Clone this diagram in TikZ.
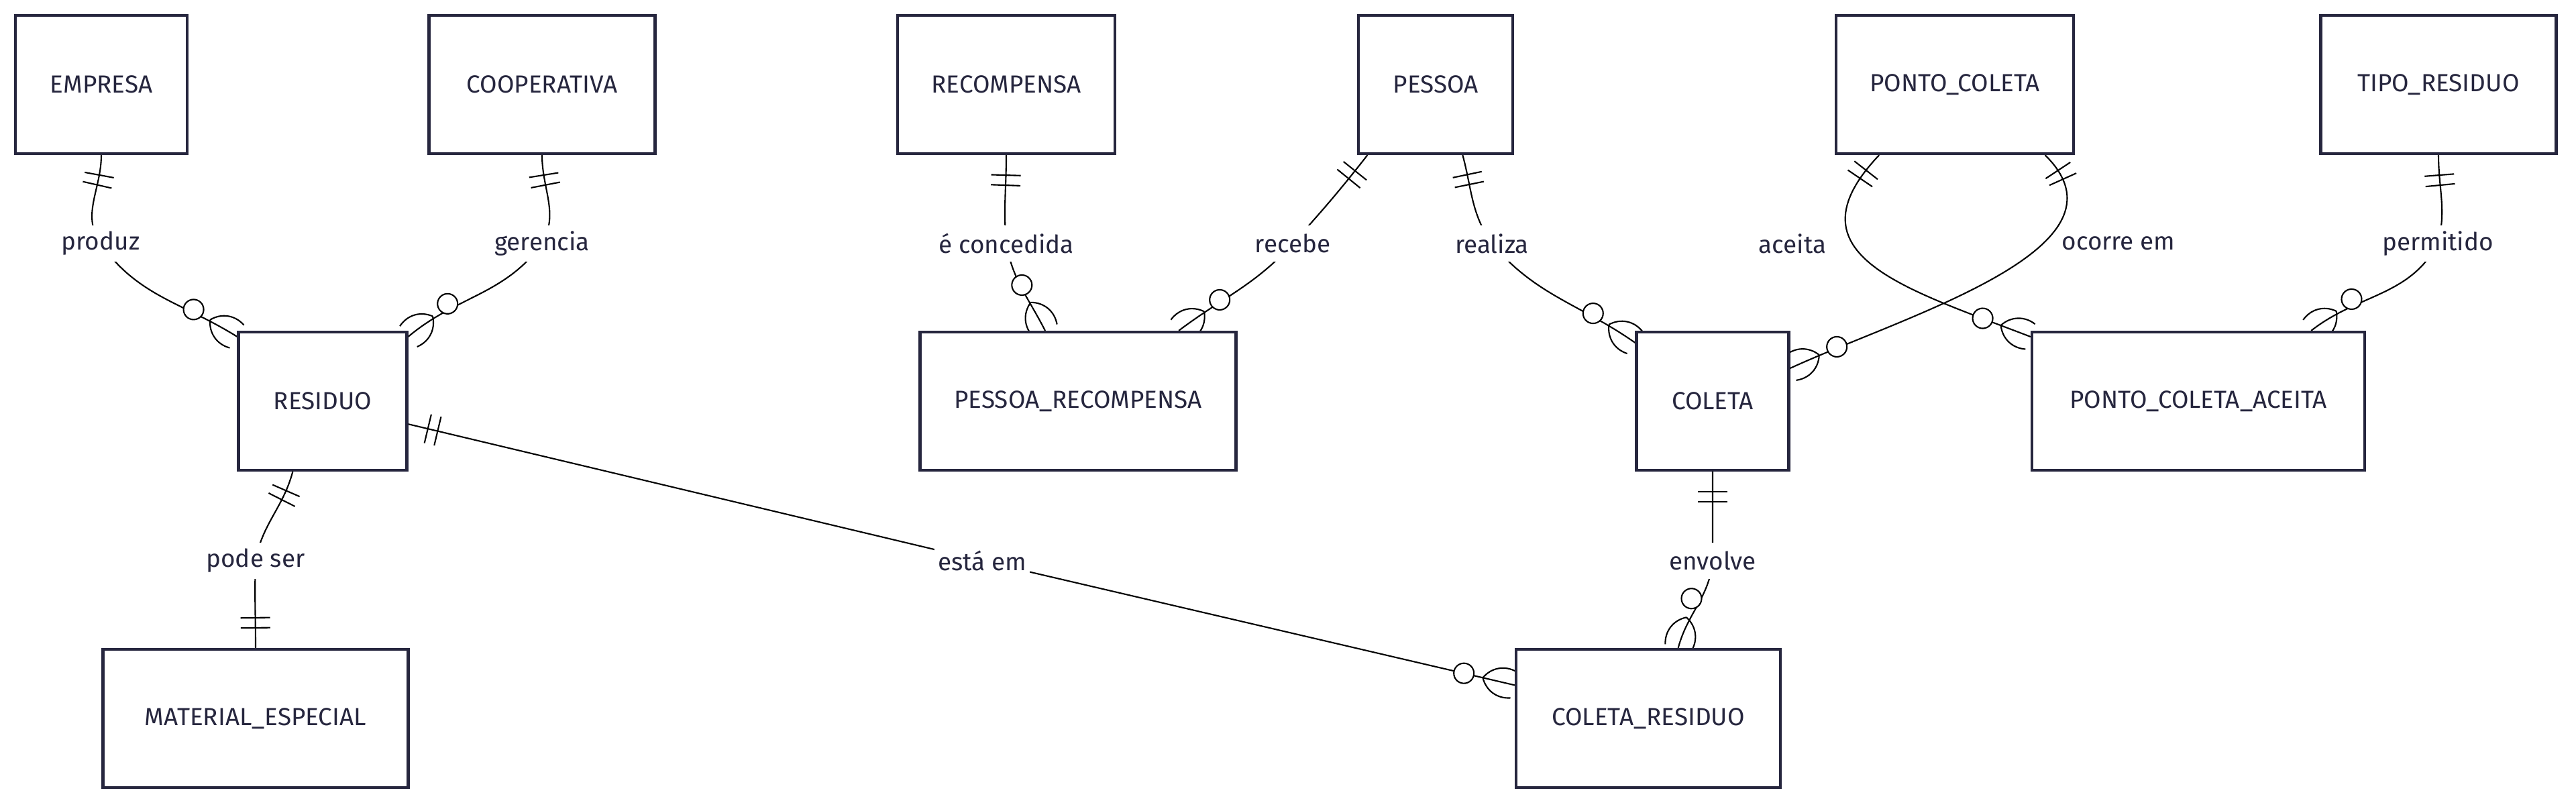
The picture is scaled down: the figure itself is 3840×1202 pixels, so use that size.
\documentclass[tikz,border=0pt]{standalone}
\usepackage{fontspec}
\setmainfont{Fira Sans}
\usetikzlibrary{decorations.markings}
\usetikzlibrary{calc}

\definecolor{inkblue}{RGB}{38,38,62}

\pgfdeclarelayer{background}
\pgfsetlayers{background,main}

\begin{document}
\begin{tikzpicture}[x=0.1mm, y=-0.1mm,
	entity/.style={draw=inkblue, line width=1.2pt, fill=white, text=inkblue, minimum height=20.6mm, inner sep=0pt, font=\fontsize{10.5}{12}\selectfont},
	rel/.style={fill=white, text=inkblue, inner xsep=1.5pt, inner ysep=0pt, minimum height=5.4mm, font=\fontsize{10.5}{12}\selectfont},
	freerel/.style={rel, fill=none},
	link/.style={black, line width=0.6pt},
	onestart/.style={postaction={decorate, decoration={markings,
		mark=at position 3mm with {\draw[link] (0,-2.2mm) -- (0,2.2mm);},
		mark=at position 4.5mm with {\draw[link] (0,-2.2mm) -- (0,2.2mm);}}}},
	oneend/.style={postaction={decorate, decoration={markings,
		mark=at position -3mm with {\draw[link] (0,-2.2mm) -- (0,2.2mm);},
		mark=at position -4.5mm with {\draw[link] (0,-2.2mm) -- (0,2.2mm);}}}},
	manyend/.style={postaction={decorate, decoration={markings,
		mark=at position 0.999 with {\draw[link, fill=white] (-7.6mm,0) circle (1.5mm);
			\draw[link] (-4.7mm,0) to[bend left=40] (0,2mm) (-4.7mm,0) to[bend right=40] (0,-2mm);}}}}
	]

	\useasboundingbox (0,0) rectangle (3840,1202);

	%Entities, top row
	\node[entity, minimum width=25.6mm] (empresa) at (151,126) {EMPRESA};
	\node[entity, minimum width=33.7mm] (coop) at (808,126) {COOPERATIVA};
	\node[entity, minimum width=32.4mm] (recomp) at (1500,126) {RECOMPENSA};
	\node[entity, minimum width=23mm] (pessoa) at (2140,126) {PESSOA};
	\node[entity, minimum width=35.4mm] (ponto) at (2914,126) {PONTO\_COLETA};
	\node[entity, minimum width=35.1mm] (tipo) at (3635,126) {TIPO\_RESIDUO};

	%Entities, middle row
	\node[entity, minimum width=25.1mm] (residuo) at (481,598) {RESIDUO};
	\node[entity, minimum width=47.1mm] (pesrec) at (1607,598) {PESSOA\_RECOMPENSA};
	\node[entity, minimum width=22.7mm] (coleta) at (2553,598) {COLETA};
	\node[entity, minimum width=49.6mm] (pca) at (3277,598) {PONTO\_COLETA\_ACEITA};

	%Entities, bottom row
	\node[entity, minimum width=45.5mm] (matesp) at (381,1071) {MATERIAL\_ESPECIAL};
	\node[entity, minimum width=39.4mm] (colres) at (2457,1071) {COLETA\_RESIDUO};

	%Labels
	\node[rel] (lprod) at (150,363) {produz};
	\node[rel] (lger) at (808,363) {gerencia};
	\node[rel] (lconc) at (1500,363) {é concedida};
	\node[rel] (lrec) at (1927,363) {recebe};
	\node[rel] (lreal) at (2224,363) {realiza};
	\node[freerel] (lacei) at (2672,363) {aceita};
	\node[freerel] (locor) at (3158,363) {ocorre em};
	\node[rel] (lperm) at (3634,363) {permitido};
	\node[rel] (lpode) at (381,836) {pode ser};
	\node[rel] (lesta) at (1464,836) {está em};
	\node[rel] (lenv) at (2553,836) {envolve};

	%Relations
	\begin{pgfonlayer}{background}
	\draw[link, onestart, manyend] (empresa.south) to[out=-90, in=125] (lprod.center) to[out=-55, in=148] (residuo.143);
	\draw[link, onestart, manyend] (coop.south) to[out=-90, in=60] (lger.center) to[out=-126, in=40] (residuo.37);
	\draw[link, onestart, manyend] (recomp.south) to[out=-90, in=95] (lconc.center) to[out=-80, in=117] (pesrec.115);
	\draw[link, onestart, manyend] (pessoa.226) to[out=-128, in=48] (lrec.center) to[out=-132, in=37] (pesrec.35);
	\draw[link, onestart, manyend] (pessoa.-69) to[out=-75, in=125] (lreal.center) to[out=-50, in=145] (coleta.143);
	\draw[link, onestart, manyend] (ponto.-137) .. controls (2660,380) and (2840,430) .. (pca.159);
	\draw[link, onestart, manyend] (ponto.-38) .. controls (3190,370) and (2840,470) .. (coleta.23);
	\draw[link, onestart, manyend] (tipo.south) to[out=-90, in=75] (lperm.center) to[out=-118, in=38] (pca.32);
	\draw[link, onestart, oneend] (residuo.-113) to[out=-105, in=80] (lpode.center) to[out=-92, in=90] (matesp.north);
	\draw[link, onestart, manyend] (residuo.-15) -- (lesta.center) -- (colres.166);
	\draw[link, onestart, manyend] (coleta.south) to[out=-90, in=90] (lenv.center) to[out=-95, in=75] (colres.67);
	\end{pgfonlayer}

\end{tikzpicture}
\end{document}
